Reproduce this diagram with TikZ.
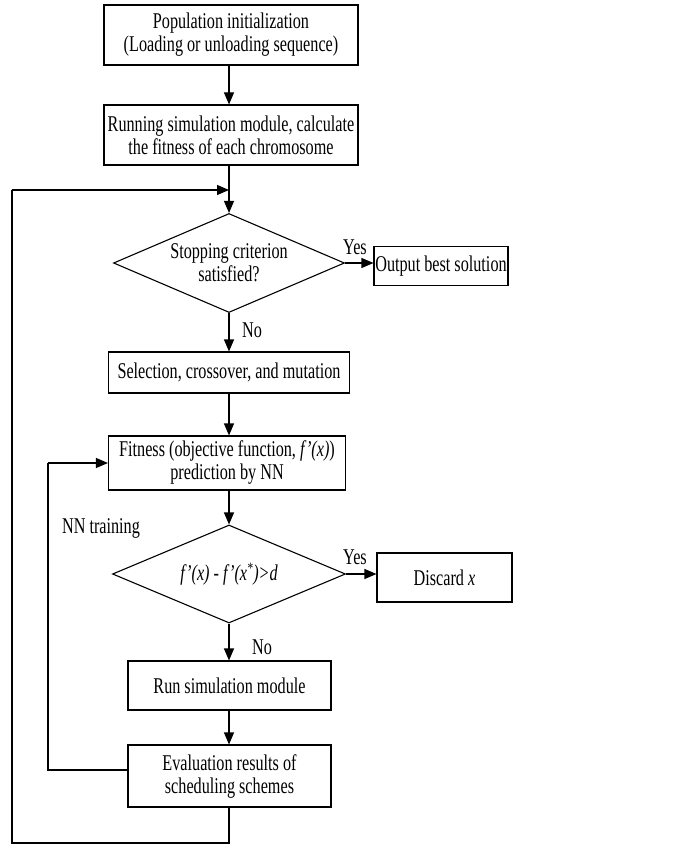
\documentclass[tikz,border=0pt]{standalone}
\usepackage{fontspec}
\setmainfont[FakeStretch=0.72]{Liberation Serif}
\usetikzlibrary{shapes.geometric,arrows.meta,calc}
\begin{document}
\begin{tikzpicture}[x=1pt,y=-1pt,
  every node/.style={font=\fontsize{22.5}{23}\selectfont},
  procbox/.style={draw,line width=1.1pt,rectangle,align=center,inner sep=0pt},
  decision/.style={draw,line width=1.1pt,diamond,shape aspect=2.3,align=center,inner sep=0pt},
  conn/.style={line width=1.1pt},
  arr/.style={line width=1.1pt,-{Triangle[length=12pt,width=10pt]}},
  lbl/.style={inner sep=0pt}]
\useasboundingbox (0,0) rectangle (681,845);
\node[procbox,minimum width=254pt,minimum height=60pt] (init) at (231,35) {Population initialization\\(Loading or unloading sequence)};
\node[procbox,minimum width=254pt,minimum height=60pt] (sim1) at (231,135) {Running simulation module, calculate\\the fitness of each chromosome};
\node[decision,minimum width=231pt,minimum height=99pt] (stop) at (229,263) {Stopping criterion\\satisfied?};
\node[procbox,minimum width=134pt,minimum height=39pt] (out) at (441,266) {Output best solution};
\node[procbox,minimum width=241pt,minimum height=41pt] (sel) at (229,372.5) {Selection, crossover, and mutation};
\node[procbox,minimum width=237pt,minimum height=54pt] (fit) at (227,463) {Fitness (objective function, \textit{f'(x)})\\prediction by NN};
\node[decision,minimum width=233pt,minimum height=98pt] (cmp) at (229,574) {\textit{f'(x) - f'(x\textsuperscript{*})>d}};
\node[procbox,minimum width=135pt,minimum height=49pt] (disc) at (444.5,577.5) {Discard \textit{x}};
\node[procbox,minimum width=203pt,minimum height=49pt] (run) at (229.5,685.5) {Run simulation module};
\node[procbox,minimum width=203pt,minimum height=62pt] (eval) at (229.5,776) {Evaluation results of\\scheduling schemes};
\node[lbl] (yes1) at (355,247) {Yes};
\node[lbl] (no1) at (252,330) {No};
\node[lbl] (nnt) at (101,528) {NN training};
\node[lbl] (yes2) at (355,557) {Yes};
\node[lbl] (no2) at (262,647) {No};
\coordinate (c1) at (229,190);
\coordinate (c2) at (229,843);
\coordinate (c3) at (12,843);
\coordinate (c4) at (12,190);
\coordinate (c5) at (48,770);
\coordinate (c6) at (48,463);
\draw[arr] (init.south -| c1) -- (sim1.north -| c1);
\draw[arr] (sim1.south -| c1) -- (stop.north);
\draw[arr] (stop.east) -- (stop.east -| out.west);
\draw[arr] (stop.south) -- (sel.north -| stop.south);
\draw[arr] (sel.south -| stop.south) -- (fit.north -| stop.south);
\draw[arr] (fit.south -| cmp.north) -- (cmp.north);
\draw[arr] (cmp.east) -- (cmp.east -| disc.west);
\draw[arr] (cmp.south) -- (run.north -| cmp.south);
\draw[arr] (run.south -| cmp.south) -- (eval.north -| cmp.south);
\draw[conn] (eval.south -| c2) -- (c2) -- (c3) -- (c4);
\draw[arr] (c4) -- (c1);
\draw[conn] (eval.west |- c5) -- (c5) -- (c6);
\draw[arr] (c6) -- (fit.west);
\end{tikzpicture}
\end{document}
